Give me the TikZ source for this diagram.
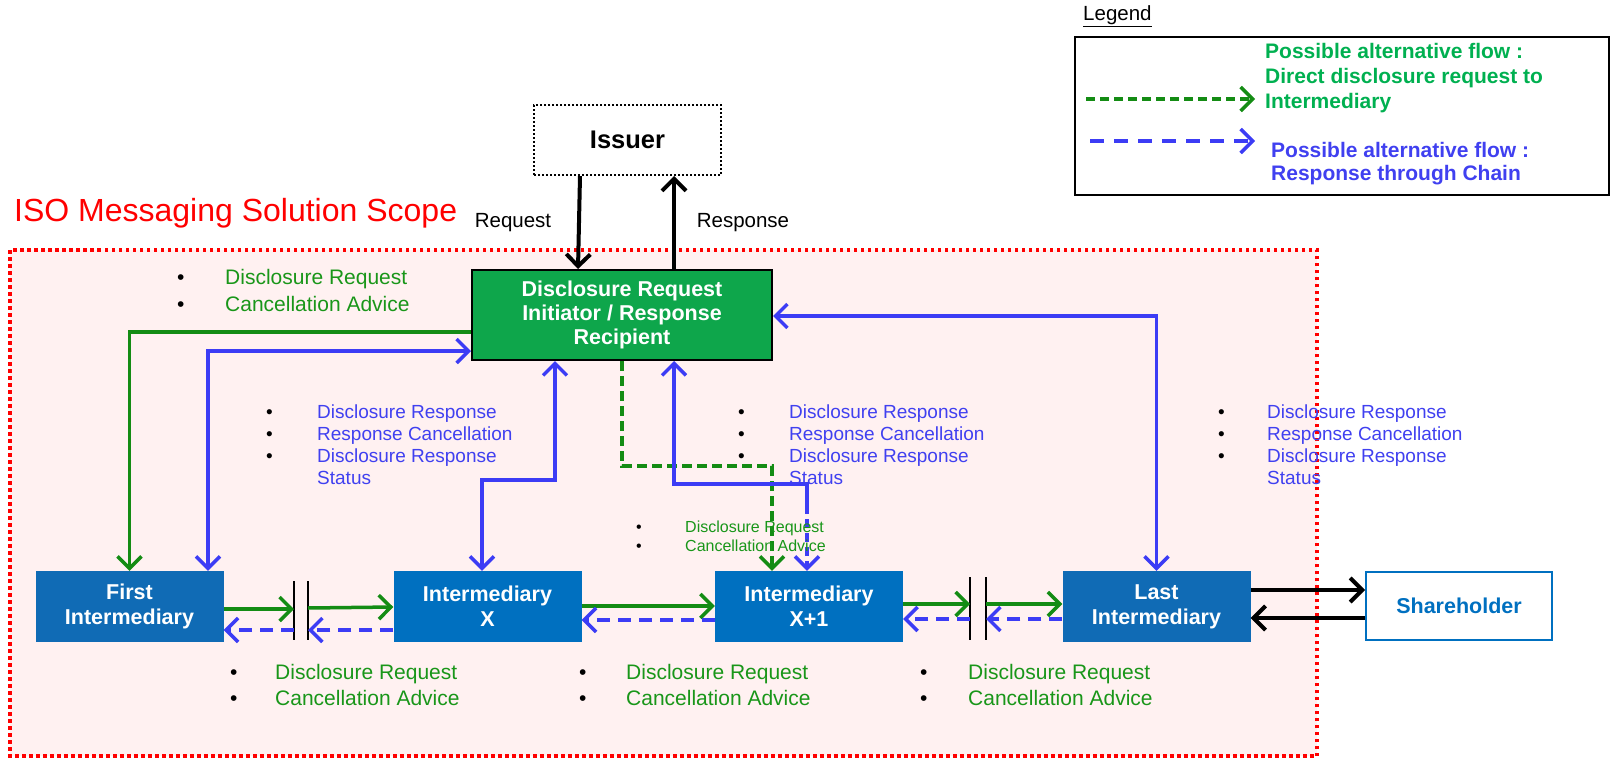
\documentclass[tikz,border=0pt]{standalone}
\usepackage{fontspec}
\setmainfont{Liberation Sans}
\usetikzlibrary{arrows.meta,calc}
\definecolor{gtxt}{RGB}{25,150,25}
\definecolor{garr}{RGB}{20,140,20}
\definecolor{btxt}{RGB}{64,64,240}
\definecolor{barr}{RGB}{60,60,245}
\definecolor{lgreen}{RGB}{0,176,80}
\definecolor{boxblue}{RGB}{16,107,181}
\definecolor{boxblue2}{RGB}{0,112,192}
\definecolor{initgreen}{RGB}{14,166,75}
\definecolor{scopefill}{RGB}{255,241,241}
\definecolor{scopered}{RGB}{255,0,0}
\newcommand{\blt}{\textcolor{black}{\textbullet}}
\begin{document}
\begin{tikzpicture}[x=1pt,y=-1pt,
  >={Straight Barb[length=12pt,width=24pt]},
  garrow/.style={draw=garr,line width=3.5pt},
  barrow/.style={draw=barr,line width=3.5pt},
  karrow/.style={draw=black,line width=4pt},
  bdash/.style={barrow,dash pattern=on 13pt off 8pt},
  gdash/.style={garrow,dash pattern=on 10pt off 5pt},
  ibox/.style={fill=#1,text=white,font=\bfseries\fontsize{21.5}{25}\selectfont,align=center,
    minimum width=188pt,minimum height=71pt,inner sep=0pt},
  lst/.style={anchor=base west,inner sep=0pt,text=#1},
  bar/.style={draw=black,line width=1.5pt}
]
\useasboundingbox (0,0) rectangle (1610,758);
% scope
\fill[scopefill] (10,250) rectangle (1317,756);
\draw[scopered,line width=3.5pt,dash pattern=on 3.5pt off 3.5pt] (10,250) rectangle (1317,756);
\node[anchor=west,inner sep=0pt,text=scopered,font=\fontsize{32}{36}\selectfont] (title) at (14,213) {ISO Messaging Solution Scope};

% legend
\node[anchor=west,inner sep=0pt,font=\fontsize{20.5}{22}\selectfont] (legtitle) at (1083,16) {\underline{Legend}};
\node[draw=black,line width=2pt,minimum width=534pt,minimum height=158pt,inner sep=0pt] (legbox) at (1342,116) {};
\coordinate (lg1a) at (1086,99);
\coordinate (lg1b) at (1255,99);
\coordinate (lg2a) at (1090,141);
\coordinate (lg2b) at (1255,141);
\draw[garrow,->,dash pattern=on 9pt off 5pt] (lg1a) -- (lg1b);
\draw[barrow,->,dash pattern=on 14pt off 10pt] (lg2a) -- (lg2b);
\node[anchor=west,inner sep=0pt,align=left,text=lgreen,font=\bfseries\fontsize{21}{25}\selectfont] (lgt1) at (1265,78)
  {Possible alternative flow :\\Direct disclosure request to\\Intermediary};
\node[anchor=west,inner sep=0pt,align=left,text=btxt,font=\bfseries\fontsize{21}{23}\selectfont] (lgt2) at (1271,164)
  {Possible alternative flow :\\Response through Chain};

% main nodes
\node[draw=black,line width=2pt,dash pattern=on 2pt off 2pt,fill=white,minimum width=187pt,minimum height=70pt,
  font=\bfseries\fontsize{25.5}{28}\selectfont] (issuer) at (627.5,140) {Issuer};
\node[draw=black,line width=2pt,fill=initgreen,text=white,align=center,minimum width=300pt,minimum height=90pt,inner sep=0pt,
  font=\bfseries\fontsize{21.5}{24}\selectfont] (init) at (622,315) {Disclosure Request\\Initiator / Response\\Recipient};
\node[ibox=boxblue] (first) at (129.5,606.5) {First\\Intermediary};
\node[ibox=boxblue2] (ix) at (487.5,606.5) {Intermediary\\X};
\node[ibox=boxblue2] (ix1) at (809,606.5) {Intermediary\\X+1};
\node[ibox=boxblue] (last) at (1156.5,606.5) {Last\\Intermediary};
\node[draw=boxblue2,line width=2pt,fill=white,text=boxblue2,minimum width=186pt,minimum height=68pt,
  font=\bfseries\fontsize{21.5}{24}\selectfont] (share) at (1459,606) {Shareholder};

% issuer arrows
\draw[karrow,->] (issuer.south -| 580,0) -- (init.north -| 578,0);
\draw[karrow,->] (init.north -| 674,0) -- (issuer.south -| 674,0);
\node[font=\fontsize{20.5}{22}\selectfont,inner sep=0pt] (reqlbl) at (513,223) {Request};
\node[font=\fontsize{20.5}{22}\selectfont,inner sep=0pt] (reslbl) at (743,223) {Response};

% connectors from initiator
\draw[garrow,->] (init.west |- 0,332) -| (first.north);
\draw[barrow,<->] (first.north -| 208,0) |- (init.west |- 0,351);
\draw[barrow,<->] (ix.north -| 482,0) |- (555,480) -- (init.south -| 555,0);
\draw[gdash,->] (init.south) |- (772,466) -- (ix1.north -| 772,0);
\coordinate (bsplit) at (807,505);
\draw[barrow,<-] (init.south -| 674,0) |- (807,484) -- (bsplit);
\draw[bdash,->,dash pattern=on 9pt off 5pt] (bsplit) -- (ix1.north -| 807,0);
\draw[barrow,<->] (last.north) |- (init.east |- 0,316);

% chain
\coordinate (bar1a) at (294,610);
\coordinate (bar1b) at (308,610);
\coordinate (bar2a) at (970,610);
\coordinate (bar2b) at (986,610);
\draw[bar] (bar1a |- 0,581) -- (bar1a |- 0,640);
\draw[bar] (bar1b |- 0,581) -- (bar1b |- 0,640);
\draw[bar] (bar2a |- 0,577) -- (bar2a |- 0,640);
\draw[bar] (bar2b |- 0,577) -- (bar2b |- 0,640);
\draw[garrow,->] (first.east |- 0,609) -- (bar1a |- 0,609);
\draw[garrow,->] (bar1b |- 0,608) -- (ix.west |- 0,607);
\draw[bdash,->] (ix.west |- 0,630) -- (bar1b |- 0,630);
\draw[bdash,->] (bar1a |- 0,630) -- (first.east |- 0,630);
\draw[garrow,->] (ix.east |- 0,606) -- (ix1.west |- 0,606);
\draw[bdash,->] (ix1.west |- 0,620) -- (ix.east |- 0,620);
\draw[garrow,->] (ix1.east |- 0,604) -- (bar2a |- 0,604);
\draw[garrow,->] (bar2b |- 0,604) -- (last.west |- 0,604);
\draw[bdash,->] (last.west |- 0,619) -- (bar2b |- 0,619);
\draw[bdash,->] (bar2a |- 0,619) -- (ix1.east |- 0,619);
\draw[karrow,->] (last.east |- 0,590) -- (share.west |- 0,590);
\draw[karrow,->] (share.west |- 0,618) -- (last.east |- 0,618);

% lists
\node[lst=gtxt,font=\fontsize{21}{27}\selectfont] (tlg) at (177,284)
  {\begin{tabular}[t]{@{}p{48pt}@{}l@{}}\blt & Disclosure Request\\ \blt & Cancellation Advice\end{tabular}};
\node[lst=btxt,font=\fontsize{19}{22}\selectfont] (lb) at (266,418)
  {\begin{tabular}[t]{@{}p{51pt}@{}l@{}}\blt & Disclosure Response\\ \blt & Response Cancellation\\ \blt & Disclosure Response\\ & Status\end{tabular}};
\node[lst=btxt,font=\fontsize{19}{22}\selectfont] (mb) at (738,418)
  {\begin{tabular}[t]{@{}p{51pt}@{}l@{}}\blt & Disclosure Response\\ \blt & Response Cancellation\\ \blt & Disclosure Response\\ & Status\end{tabular}};
\node[lst=btxt,font=\fontsize{19}{22}\selectfont] (rb) at (1218,418)
  {\begin{tabular}[t]{@{}p{49pt}@{}l@{}}\blt & Disclosure Response\\ \blt & Response Cancellation\\ \blt & Disclosure Response\\ & Status\end{tabular}};
\node[lst=gtxt,font=\fontsize{16}{19}\selectfont] (smg) at (636,532)
  {\begin{tabular}[t]{@{}p{49pt}@{}l@{}}\blt & Disclosure Request\\ \blt & Cancellation Advice\end{tabular}};
\node[lst=gtxt,font=\fontsize{21}{26}\selectfont] (bg1) at (230,679)
  {\begin{tabular}[t]{@{}p{45pt}@{}l@{}}\blt & Disclosure Request\\ \blt & Cancellation Advice\end{tabular}};
\node[lst=gtxt,font=\fontsize{21}{26}\selectfont] (bg2) at (579,679)
  {\begin{tabular}[t]{@{}p{47pt}@{}l@{}}\blt & Disclosure Request\\ \blt & Cancellation Advice\end{tabular}};
\node[lst=gtxt,font=\fontsize{21}{26}\selectfont] (bg3) at (920,679)
  {\begin{tabular}[t]{@{}p{48pt}@{}l@{}}\blt & Disclosure Request\\ \blt & Cancellation Advice\end{tabular}};
\end{tikzpicture}
\end{document}
